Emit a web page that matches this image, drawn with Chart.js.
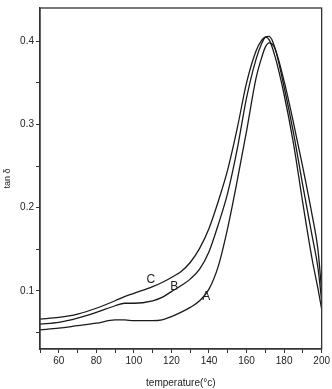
<!DOCTYPE html>
<html>
<head>
<meta charset="utf-8">
<script src="https://cdn.jsdelivr.net/npm/chart.js@4.4.1/dist/chart.umd.min.js"></script>
<style>
  html, body { margin: 0; padding: 0; background: #fff; }
  #wrap { width: 332px; height: 389px; }
</style>
</head>
<body>
<div id="wrap"><canvas id="myChart"></canvas></div>
<script>
// temperatura (°C) comun a las tres curvas
const temps = [50, 60, 70, 80, 90, 95, 100, 110, 115, 120, 125, 130, 135, 140, 145, 150, 155, 160, 165, 168, 170, 172, 175, 180, 185, 190, 195, 198, 200];

// tan delta
const curvaA = [0.053, 0.055, 0.058, 0.061, 0.065, 0.065, 0.064, 0.064, 0.065, 0.069, 0.074, 0.080, 0.088, 0.102, 0.130, 0.176, 0.232, 0.292, 0.355, 0.380, 0.393, 0.398, 0.392, 0.352, 0.302, 0.248, 0.190, 0.150, 0.100];
const curvaB = [0.060, 0.062, 0.067, 0.074, 0.082, 0.085, 0.085, 0.088, 0.092, 0.099, 0.106, 0.114, 0.126, 0.147, 0.180, 0.218, 0.270, 0.332, 0.378, 0.397, 0.405, 0.406, 0.393, 0.345, 0.290, 0.226, 0.165, 0.128, 0.088];
const curvaC = [0.066, 0.068, 0.072, 0.079, 0.088, 0.093, 0.097, 0.105, 0.110, 0.116, 0.123, 0.134, 0.151, 0.175, 0.208, 0.246, 0.295, 0.350, 0.388, 0.401, 0.405, 0.402, 0.383, 0.336, 0.277, 0.205, 0.137, 0.103, 0.078];

const nombres = ['A', 'B', 'C'];
// donde va cada letra (temperatura, tan delta)
const letraX = [138.5, 121.5, 109];
const letraY = [0.093, 0.105, 0.113];

const xTicks = [60, 80, 100, 120, 140, 160, 180, 200];

function puntos(vals) {
    return temps.map((t, i) => ({ x: t, y: vals[i] }));
}

const marco = {
    id: 'marco',
    afterDraw(chart) {
        const ctx = chart.ctx;
        const a = chart.chartArea;
        ctx.save();
        ctx.strokeStyle = '#333';
        ctx.lineWidth = 1.3;
        ctx.strokeRect(a.left, a.top, a.right - a.left, a.bottom - a.top);

        // letras A B C
        const sx = chart.scales.x, sy = chart.scales.y;
        ctx.fillStyle = '#222';
        ctx.font = '12px "Liberation Sans", Arial, sans-serif';
        ctx.textAlign = 'center';
        ctx.textBaseline = 'middle';
        for (let i = 0; i < nombres.length; i++) {
            ctx.fillText(nombres[i], sx.getPixelForValue(letraX[i]), sy.getPixelForValue(letraY[i]));
        }
        ctx.restore();
    }
};

const linea = { borderColor: '#1a1a1a', borderWidth: 1.3, pointRadius: 0, fill: false, cubicInterpolationMode: 'monotone' };

const ctx = document.getElementById('myChart').getContext('2d');
const myChart = new Chart(ctx, {
    type: 'line',
    data: {
        datasets: [
            Object.assign({ label: 'A', data: puntos(curvaA) }, linea),
            Object.assign({ label: 'B', data: puntos(curvaB) }, linea),
            Object.assign({ label: 'C', data: puntos(curvaC) }, linea)
        ]
    },
    options: {
        responsive: true,
        maintainAspectRatio: false,
        animation: false,
        layout: { padding: { top: 4, right: 7, left: 0, bottom: 0 } },
        plugins: { legend: { display: false }, tooltip: { enabled: false } },
        scales: {
            x: {
                type: 'linear',
                min: 50,
                max: 200,
                afterFit: (s) => { s.height = 40; },
                ticks: {
                    stepSize: 10,
                    autoSkip: false,
                    maxRotation: 0,
                    padding: 2,
                    color: '#222',
                    font: { family: '"Liberation Sans", Arial, sans-serif', size: 10 },
                    callback: (v) => xTicks.includes(v) ? String(v) : ''
                },
                grid: { drawOnChartArea: false, tickLength: 4, color: '#333' },
                border: { color: '#333', width: 1.3 },
                title: {
                    display: true,
                    text: 'temperature(°c)',
                    color: '#222',
                    padding: { top: 6, bottom: 0 },
                    font: { family: '"Liberation Sans", Arial, sans-serif', size: 10 }
                }
            },
            y: {
                min: 0.03,
                max: 0.44,
                afterFit: (s) => { s.width = 40; },
                afterBuildTicks: (s) => {
                    s.ticks = [0.05, 0.1, 0.15, 0.2, 0.25, 0.3, 0.35, 0.4].map(v => ({ value: v }));
                },
                ticks: {
                    padding: 2,
                    color: '#222',
                    font: { family: '"Liberation Sans", Arial, sans-serif', size: 10 },
                    callback: (v) => {
                        const r = Math.round(v * 100);
                        return r % 10 === 0 ? (r / 100).toFixed(1) : '';
                    }
                },
                grid: { drawOnChartArea: false, tickLength: 4, color: '#333' },
                border: { color: '#333', width: 1.3 },
                title: {
                    display: true,
                    text: 'tan δ',
                    color: '#222',
                    padding: { top: 2, bottom: 4 },
                    font: { family: '"Liberation Sans", Arial, sans-serif', size: 9 }
                }
            }
        }
    },
    plugins: [marco]
});
</script>
</body>
</html>
